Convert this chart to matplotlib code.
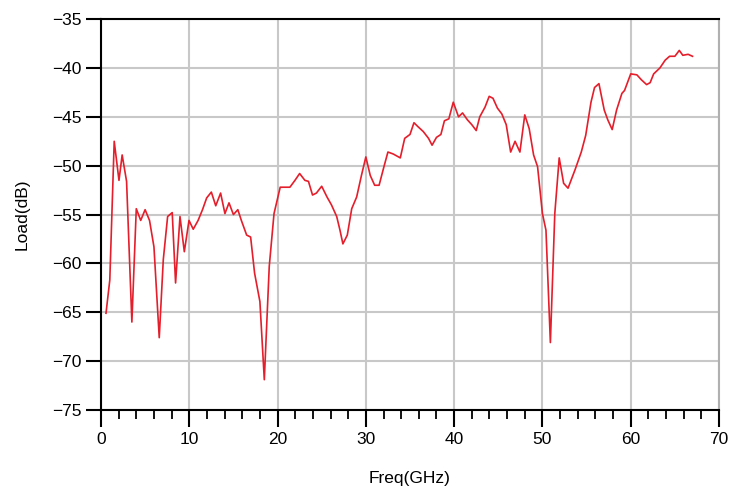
import matplotlib.pyplot as plt
import matplotlib
from matplotlib.ticker import MultipleLocator

matplotlib.rcParams['font.family'] = ['Liberation Sans', 'DejaVu Sans']

# 频率 (GHz)
freq = [0.57, 1.0, 1.5, 2.04, 2.4, 2.9, 3.5, 4.0, 4.5, 5.0, 5.5, 6.0, 6.6, 7.06,
        7.55, 8.07, 8.45, 8.95, 9.44, 9.97, 10.45, 11.0, 11.5, 11.97, 12.5, 13.0,
        13.55, 14.04, 14.5, 15.0, 15.5, 15.9, 16.5, 16.95, 17.4, 18.0, 18.5,
        19.06, 19.6, 20.3, 20.8, 21.4, 21.97, 22.5, 23.1, 23.5, 23.96, 24.4,
        25.0, 25.6, 26.1, 26.7, 27.07, 27.4, 27.9, 28.4, 28.96, 29.5, 30.0,
        30.5, 31.0, 31.5, 32.05, 32.5, 33.1, 33.9, 34.4, 35.0, 35.45, 35.9,
        36.5, 37.1, 37.5, 38.0, 38.5, 38.9, 39.4, 39.9, 40.5, 40.95, 41.5, 42.0,
        42.5, 42.9, 43.5, 43.97, 44.4, 44.9, 45.4, 45.9, 46.4, 46.9, 47.45, 48.0,
        48.5, 49.0, 49.45, 50.0, 50.4, 50.9, 51.4, 51.9, 52.4, 52.9, 53.7, 54.4,
        54.9, 55.5, 55.9, 56.4, 57.0, 57.4, 57.9, 58.4, 59.0, 59.3, 60.0, 60.7,
        61.2, 61.8, 62.2, 62.6, 63.3, 63.9, 64.4, 65.0, 65.5, 65.9, 66.5, 67.0]

# 负载 (dB)
load = [-65.1, -61.7, -47.5, -51.5, -48.9, -51.6, -66.0, -54.4, -55.6, -54.5,
        -55.6, -58.3, -67.6, -59.6, -55.2, -54.8, -62.0, -55.2, -58.8, -55.6,
        -56.5, -55.6, -54.5, -53.3, -52.7, -54.1, -52.8, -54.9, -53.8, -55.0,
        -54.5, -55.6, -57.1, -57.3, -61.0, -63.9, -71.9, -60.3, -54.9, -52.2,
        -52.2, -52.2, -51.5, -50.8, -51.5, -51.6, -53.0, -52.8, -52.1, -53.2,
        -54.0, -55.2, -56.6, -58.0, -57.1, -54.4, -53.2, -51.0, -49.1, -51.0,
        -52.0, -52.0, -50.1, -48.6, -48.8, -49.2, -47.2, -46.8, -45.6, -46.0,
        -46.5, -47.2, -47.9, -47.1, -46.8, -45.4, -45.2, -43.5, -45.0, -44.6,
        -45.3, -45.8, -46.4, -45.0, -44.0, -42.9, -43.1, -44.1, -44.7, -45.8,
        -48.6, -47.5, -48.6, -44.8, -46.2, -48.9, -50.1, -54.9, -56.6, -68.1,
        -54.9, -49.2, -51.8, -52.3, -50.4, -48.6, -46.9, -43.5, -42.0, -41.6,
        -44.3, -45.3, -46.3, -44.3, -42.6, -42.3, -40.6, -40.7, -41.2, -41.7,
        -41.5, -40.6, -40.0, -39.2, -38.8, -38.8, -38.2, -38.7, -38.6, -38.8]

xticks = [0, 10, 20, 30, 40, 50, 60, 70]
yticks = [-75, -70, -65, -60, -55, -50, -45, -40, -35]

fig = plt.figure(figsize=(7.37, 4.91), dpi=100)
ax = fig.add_axes([0.137, 0.165, 0.8386, 0.796])

ax.plot(freq, load, color='#e41e2b', linewidth=1.2)

ax.set_xlim(0, 70)
ax.set_ylim(-75, -35)
ax.set_xticks(xticks)
ax.set_yticks(yticks)
ax.xaxis.set_minor_locator(MultipleLocator(2))
ax.grid(True, which='major', color='#c8c8c8', linewidth=1.5)
ax.set_axisbelow(True)

for side in ['left', 'bottom', 'top']:
    ax.spines[side].set_linewidth(1.5)
    ax.spines[side].set_color('black')
ax.spines['right'].set_color('#b0b0b0')
ax.spines['right'].set_linewidth(1.5)

ax.tick_params(axis='both', which='major', direction='out', width=1.5,
               labelsize=12.5, colors='black')
ax.tick_params(axis='x', which='major', length=12, pad=4)
ax.tick_params(axis='x', which='minor', length=6.5, width=1.3)
ax.tick_params(axis='y', which='major', length=11, pad=3)

ax.set_xlabel('Freq(GHz)', fontsize=12.5, labelpad=17)
ax.set_ylabel('Load(dB)', fontsize=12.5, labelpad=16)

fig.savefig('out.png', dpi=100)
